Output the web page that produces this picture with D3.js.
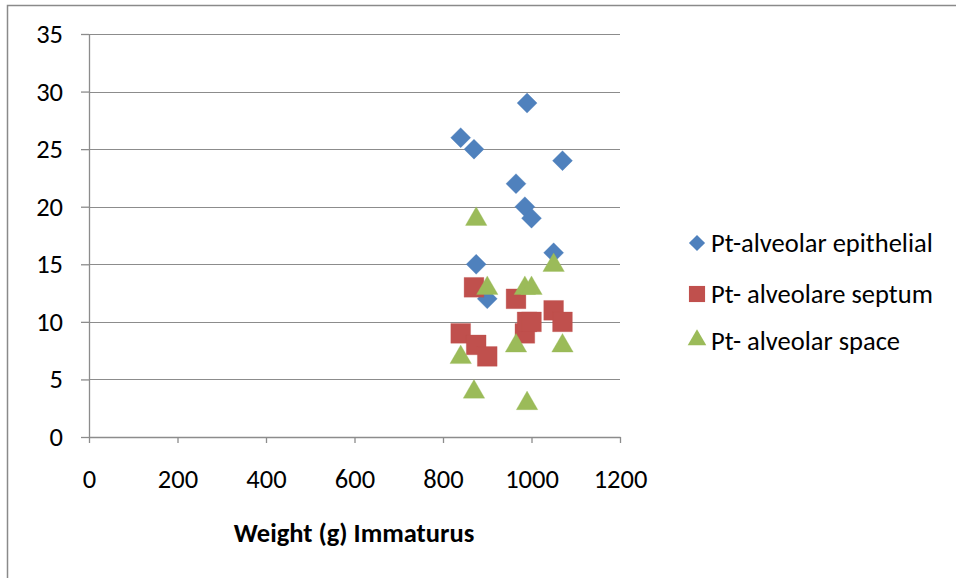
<!DOCTYPE html>
<html><head><meta charset="utf-8">
<script src="https://cdn.jsdelivr.net/npm/d3@7"></script>
<style>html,body{margin:0;padding:0;background:#fff;}svg{display:block;}</style>
</head><body>
<svg id="c" width="956" height="578"></svg>
<script>
const weights = [840, 870, 875, 900, 965, 985, 990, 1000, 1050, 1070];
const epithelial = [26, 25, 15, 12, 22, 20, 29, 19, 16, 24];
const septum = [9, 13, 8, 7, 12, 9, 10, 10, 11, 10];
const space = [7, 4, 19, 13, 8, 13, 3, 13, 15, 8];
const seriesNames = ["Pt-alveolar epithelial", "Pt-  alveolare septum", "Pt- alveolar space"];
const xTicks = [0, 200, 400, 600, 800, 1000, 1200];
const yTicks = [0, 5, 10, 15, 20, 25, 30, 35];
const xTitle = "Weight (g) Immaturus";

const font = "Carlito, Lato, 'Open Sans', sans-serif";
const fs = 26.5;
const colors = ["#4F81BD", "#C0504D", "#9BBB59"];
const svg = d3.select("#c");

// outer border (clipped on right and bottom)
svg.append("path").attr("d", "M7.5,578 V5.5 H956").attr("fill", "none")
  .attr("stroke", "#8a8a8a").attr("stroke-width", 1.5);

const x = d3.scaleLinear().domain([0, 1200]).range([89, 620]);
const y = d3.scaleLinear().domain([0, 35]).range([437, 34]);
const grey = "#8c8c8c";

// gridlines
svg.append("g").selectAll("line").data(yTicks.filter(d => d > 0)).join("line")
  .attr("x1", x(0)).attr("x2", x(1200))
  .attr("y1", d => Math.round(y(d)) + 0.5).attr("y2", d => Math.round(y(d)) + 0.5)
  .attr("stroke", grey).attr("stroke-width", 1.2);

// y axis
const yAx = svg.append("g").attr("transform", `translate(${x(0)},0)`)
  .call(d3.axisLeft(y).tickValues(yTicks).tickFormat(d3.format("d")).tickSize(8).tickSizeOuter(0).tickPadding(18));
// x axis
const xAx = svg.append("g").attr("transform", `translate(0,${y(0)})`)
  .call(d3.axisBottom(x).tickValues(xTicks).tickFormat(d3.format("d")).tickSize(6).tickSizeOuter(0).tickPadding(26));
[yAx, xAx].forEach(a => {
  a.selectAll("path,line").attr("stroke", grey).attr("stroke-width", 1.3);
  a.selectAll("text").attr("font-family", font).attr("font-size", fs).attr("fill", "#000");
});

svg.append("text").attr("x", 354).attr("y", 542).attr("text-anchor", "middle")
  .attr("font-family", font).attr("font-size", fs).attr("font-weight", "bold").text(xTitle);

const symbols = [d3.symbolSquare, d3.symbolSquare, d3.symbolTriangle];
const sizes = [200, 390, 200];
const rot = [45, 0, 0];
const allSeries = [epithelial, septum, space];
[0, 1, 2].forEach(i => {
  const pts = weights.map((w, k) => [w, allSeries[i][k]]);
  const sym = d3.symbol().type(symbols[i]).size(sizes[i]);
  svg.append("g").selectAll("path").data(pts).join("path")
    .attr("d", sym)
    .attr("transform", d => `translate(${x(d[0])},${y(d[1]) + (i === 2 ? 1 : 0)}) rotate(${rot[i]})`)
    .attr("fill", colors[i]).attr("stroke", colors[i]).attr("stroke-width", 0.5).attr("stroke-opacity", 0.6);
});

// legend
const legY = [243, 294, 340];
const legSizes = [130, 260, 150];
seriesNames.forEach((n, i) => {
  const sym = d3.symbol().type(symbols[i]).size(legSizes[i]);
  svg.append("path").attr("d", sym)
    .attr("transform", `translate(697,${legY[i]}) rotate(${rot[i]})`)
    .attr("fill", colors[i]);
  svg.append("text").attr("x", 711).attr("y", [252, 303, 350][i])
    .attr("font-family", font).attr("font-size", fs).attr("fill", "#000").text(n);
});
</script>
</body></html>
